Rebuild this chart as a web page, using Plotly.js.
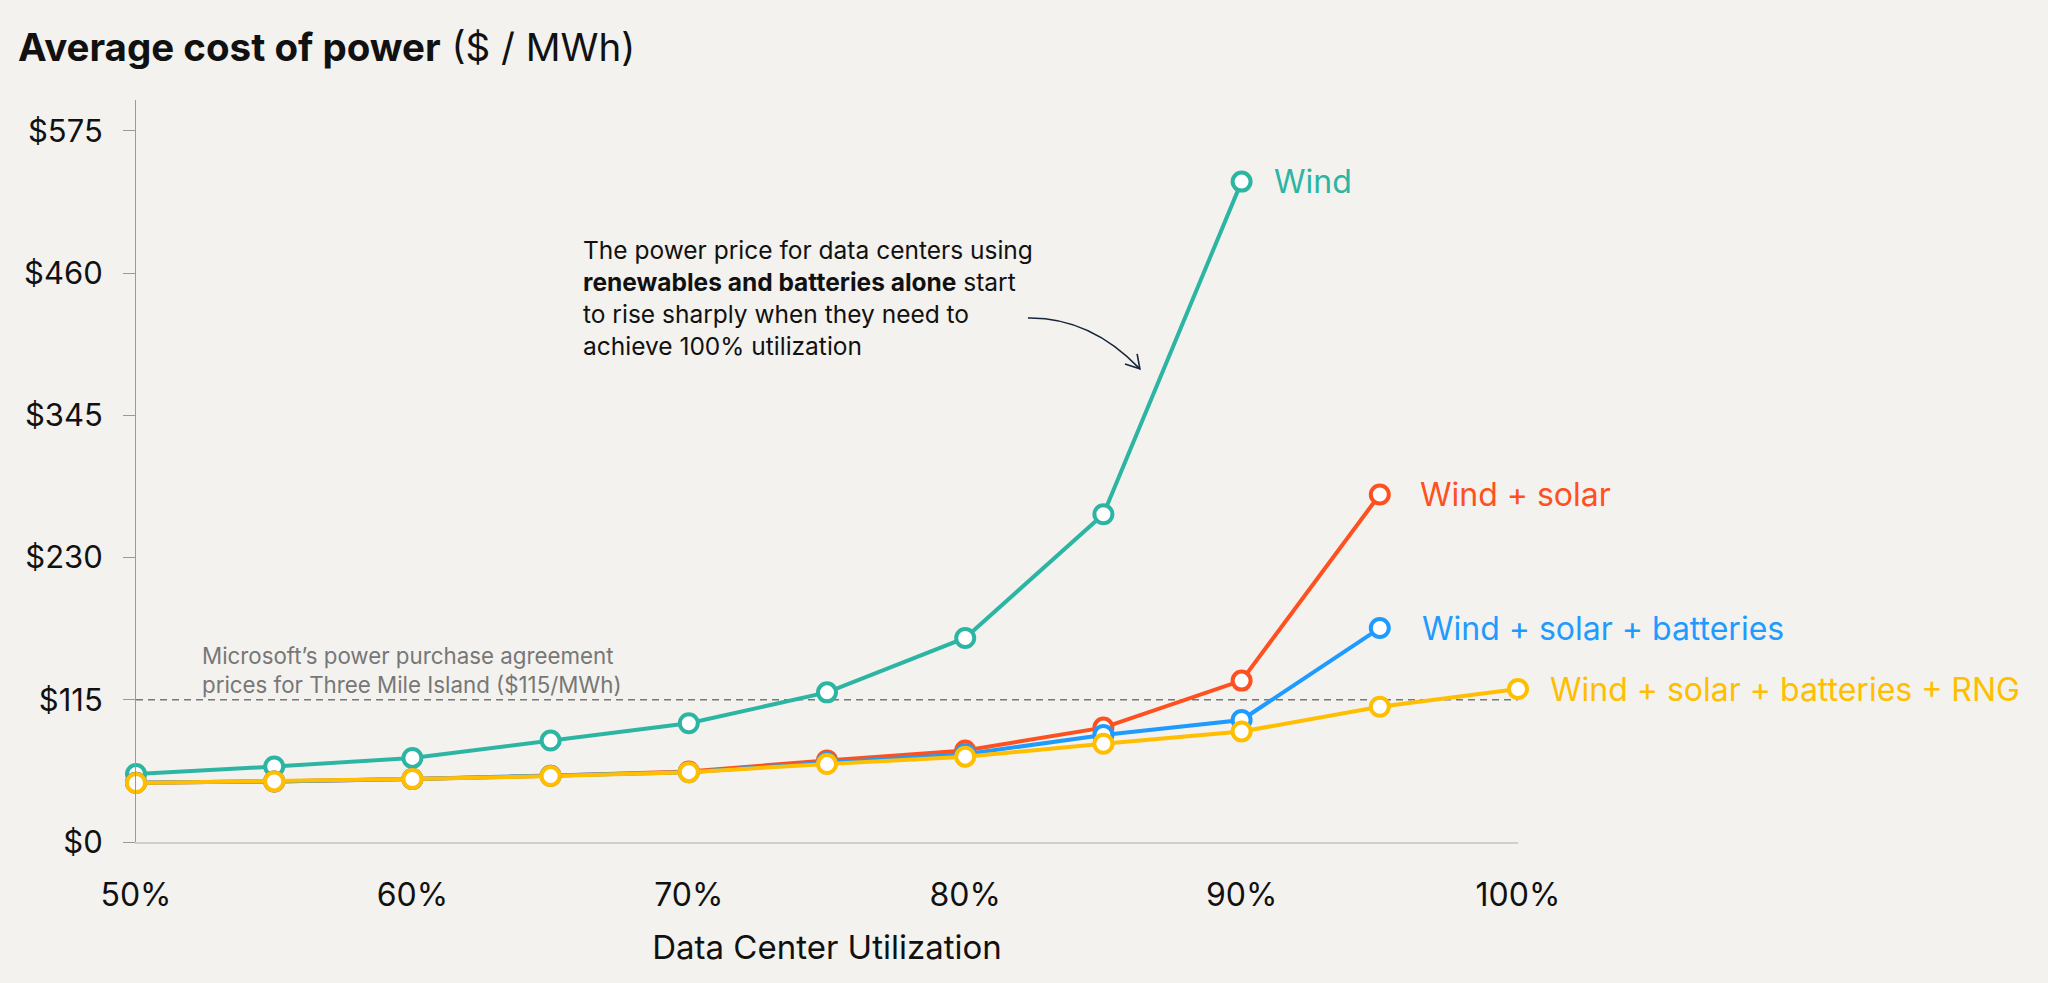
<!DOCTYPE html>
<html>
<head>
<meta charset="utf-8">
<script src="https://cdn.plot.ly/plotly-3.0.1.min.js"></script>
<style>
  html, body { margin: 0; padding: 0; background: #F3F2EE; }
  #chart { width: 2048px; height: 983px; }
</style>
</head>
<body>
<div id="chart"></div>
<script>
// ---- Data ----
const utilization = [50, 55, 60, 65, 70, 75, 80, 85, 90, 95, 100];
const wind = [55, 61, 68, 82, 96, 121, 165, 265, 534];
const windSolar = [48, 49, 51, 53.5, 57, 66, 74, 92.5, 130.5, 281];
const windSolarBatteries = [48, 49, 51, 53.5, 56.5, 64, 71, 86.6, 98.7, 173];
const windSolarBatteriesRNG = [47.7, 49, 50.9, 53.3, 56.5, 63, 69, 79.4, 89.3, 109.4, 123.7];

const seriesNames = ["Wind", "Wind + solar", "Wind + solar + batteries", "Wind + solar + batteries + RNG"];
const seriesValues = [wind, windSolar, windSolarBatteries, windSolarBatteriesRNG];

const yTickVals = [0, 115, 230, 345, 460, 575];
const yTickText = ["$0", "$115", "$230", "$345", "$460", "$575"];
const xTickVals = [50, 60, 70, 80, 90, 100];
const xTickText = ["50%", "60%", "70%", "80%", "90%", "100%"];

const ppaPrice = 115;

// ---- Styles ----
const colors = ["#2DB5A3", "#FF5020", "#1F9BFF", "#FFBE00"];
const labelShift = [30, 38, 40, 30];
const FONT = "Inter, 'Noto Sans', sans-serif";

const traces = seriesValues.map((vals, i) => ({
  type: "scatter",
  mode: "lines+markers",
  name: seriesNames[i],
  x: utilization.slice(0, vals.length),
  y: vals,
  line: { color: colors[i], width: 4 },
  marker: { symbol: "circle", size: 18, color: "#FFFFFF", line: { color: colors[i], width: 4 } },
  cliponaxis: false,
  hoverinfo: "x+y+name"
}));

const seriesLabels = seriesValues.map((vals, i) => ({
  x: utilization[vals.length - 1],
  y: vals[vals.length - 1],
  xref: "x", yref: "y",
  text: seriesNames[i],
  showarrow: false,
  xanchor: "left", yanchor: "middle",
  xshift: labelShift[i],
  font: { family: FONT, size: 32, color: colors[i] }
}));

const layout = {
  width: 2048,
  height: 983,
  paper_bgcolor: "#F3F2EE",
  plot_bgcolor: "#F3F2EE",
  showlegend: false,
  margin: { l: 136, r: 530, t: 100, b: 141 },
  font: { family: FONT, color: "#111111" },
  title: {
    text: "<b>Average cost of power</b> ($ / MWh)",
    font: { family: FONT, size: 38.5, color: "#111111" },
    xref: "container", yref: "container",
    x: 18 / 2048, xanchor: "left",
    y: 1 - 48 / 983, yanchor: "middle"
  },
  xaxis: {
    range: [50, 100],
    tickvals: xTickVals,
    ticktext: xTickText,
    ticks: "",
    showgrid: false,
    zeroline: false,
    showline: true,
    linecolor: "#CFCFCC",
    linewidth: 2,
    tickfont: { family: FONT, size: 32, color: "#111111" },
    ticklabelstandoff: 24,
    title: { text: "Data Center Utilization", font: { family: FONT, size: 33, color: "#111111" }, standoff: 22 },
    fixedrange: true
  },
  yaxis: {
    range: [0, 600],
    tickvals: yTickVals,
    ticktext: yTickText,
    ticks: "outside",
    ticklen: 12,
    tickwidth: 1,
    tickcolor: "#9A9A9A",
    showgrid: false,
    zeroline: false,
    showline: true,
    linecolor: "#9A9A9A",
    linewidth: 1,
    tickfont: { family: FONT, size: 31, color: "#111111" },
    ticklabelstandoff: 14,
    fixedrange: true
  },
  shapes: [
    {
      type: "line", xref: "paper", yref: "y",
      x0: 0, x1: 1, y0: ppaPrice, y1: ppaPrice,
      line: { color: "#777777", width: 1.5, dash: "7px,5px" },
      layer: "below"
    },
    {
      type: "path", xref: "x", yref: "y",
      path: "M 82.27 423.7 Q 84.52 424.5 86.32 382.6",
      line: { color: "#16263A", width: 1.6 }
    },
    {
      type: "path", xref: "x", yref: "y",
      path: "M 85.78 386.6 L 86.32 382.6 L 86.22 394.7",
      line: { color: "#16263A", width: 1.6 }
    }
  ],
  annotations: seriesLabels.concat([
    {
      xref: "paper", yref: "paper",
      x: 0.322, y: 0.7326,
      xanchor: "left", yanchor: "middle", align: "left",
      showarrow: false,
      text: "The power price for data centers using<br><b>renewables and batteries alone</b> start<br>to rise sharply when they need to<br>achieve 100% utilization",
      font: { family: FONT, size: 24.5, color: "#111111" }
    },
    {
      xref: "paper", yref: "paper",
      x: 0.0465, y: 0.2322,
      xanchor: "left", yanchor: "middle", align: "left",
      showarrow: false,
      text: "Microsoft’s power purchase agreement<br>prices for Three Mile Island ($115/MWh)",
      font: { family: FONT, size: 22.3, color: "#777777" }
    }
  ])
};

Plotly.newPlot("chart", traces, layout, { displayModeBar: false, responsive: false });
</script>
</body>
</html>
